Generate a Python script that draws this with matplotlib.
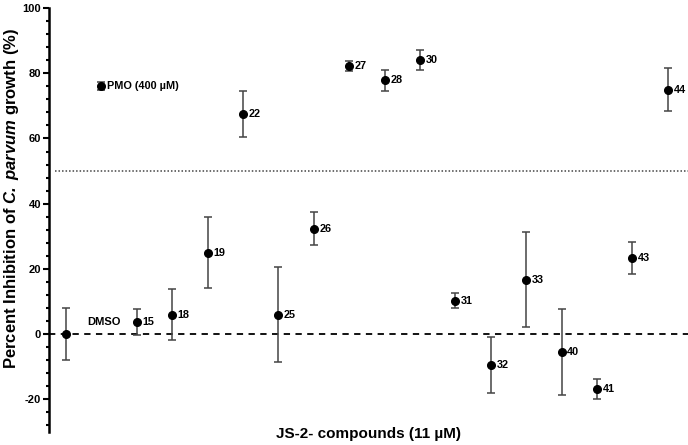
import matplotlib
matplotlib.use("Agg")
import matplotlib.pyplot as plt
from matplotlib.ticker import MultipleLocator

plt.rcParams['font.family'] = ['Liberation Sans', 'DejaVu Sans']
plt.rcParams['mathtext.fontset'] = 'custom'
plt.rcParams['mathtext.bfit'] = 'Liberation Sans:bold:italic'
plt.rcParams['mathtext.it'] = 'Liberation Sans:italic'
plt.rcParams['mathtext.bf'] = 'Liberation Sans:bold'

labels = ["DMSO", "PMO (400 µM)", "15", "18", "19", "22", "25", "26", "27", "28",
          "30", "31", "32", "33", "40", "41", "43", "44"]
values = [0, 76, 3.8, 6, 25, 67.5, 6, 32.3, 82.3, 77.8, 84, 10.2, -9.5, 16.7,
          -5.5, -16.8, 23.3, 75]
errors = [8, 1.2, 4, 7.8, 11, 7, 14.5, 5.1, 1.5, 3.2, 3, 2.3, 8.5, 14.5,
          13.2, 3, 5, 6.5]
threshold = 50
yticks = [-20, 0, 20, 40, 60, 80, 100]

W, H = 688, 445
fig = plt.figure(figsize=(W / 100, H / 100), dpi=100)
ax = fig.add_axes([49 / W, 1 - 432 / H, (W - 49) / W, (432 - 8) / H])

x = list(range(len(values)))
ax.errorbar(x, values, yerr=errors, fmt='o', color='black', markersize=5.5,
            ecolor='#444444', elinewidth=1.1, capsize=2.8, capthick=1.1, zorder=3)

ax.axhline(0, color='black', lw=1.3, ls=(0, (3.5, 3)), zorder=1)
ax.plot([-0.3, 17.6], [threshold, threshold], color='#444444', lw=1.1,
        ls=(0, (1, 1.3)), zorder=1)

for xi, yi, lab in zip(x, values, labels):
    if lab == "DMSO":
        ax.annotate(lab, (xi, yi), xytext=(15, 9), textcoords='offset points',
                    fontsize=8, fontweight='bold', va='center', ha='left')
    else:
        ax.annotate(lab, (xi, yi), xytext=(4, 0), textcoords='offset points',
                    fontsize=7.8, fontweight='bold', va='center', ha='left')

ax.set_xlim(-0.48, 17.57)
ax.set_ylim(-30, 100)
ax.set_yticks(yticks)
ax.set_yticklabels([str(t) for t in yticks], fontsize=8, fontweight='bold')
ax.yaxis.set_minor_locator(MultipleLocator(4))
ax.tick_params(axis='y', which='major', length=4.5, width=1.5, pad=1.2)
ax.tick_params(axis='y', which='minor', length=2.5, width=1.5)
ax.set_xticks([])
for s in ['top', 'right', 'bottom']:
    ax.spines[s].set_visible(False)
ax.spines['left'].set_linewidth(1.8)

fig.text(12 / W, 1 - 198 / H,
         r'Percent Inhibition of $\mathbfit{C.\ parvum}$ growth (%)',
         rotation=90, ha='center', va='center', fontsize=12, fontweight='bold')
fig.text((49 + W) / 2 / W, 1 - 434 / H, 'JS-2- compounds (11 µM)',
         ha='center', va='center', fontsize=11, fontweight='bold')

fig.savefig('out.png', dpi=100)
